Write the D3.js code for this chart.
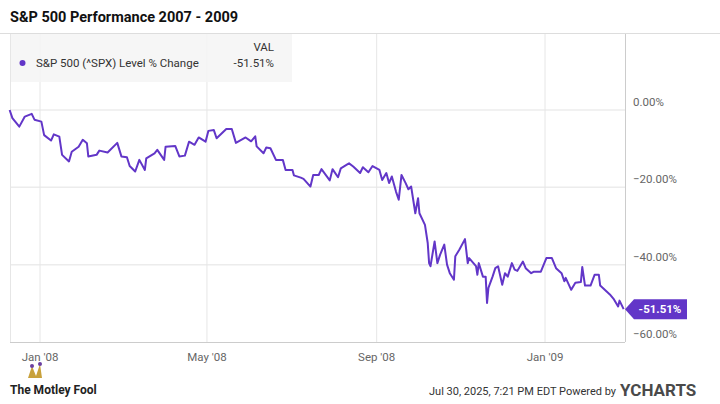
<!DOCTYPE html>
<html><head><meta charset="utf-8">
<script src="https://cdn.jsdelivr.net/npm/d3@7"></script>
<style>body{margin:0;background:#fff;font-family:Roboto,sans-serif}</style>
</head><body><svg id="c" width="720" height="404"></svg>
<script>
var dates = ["2007-12-10","2007-12-12","2007-12-17","2007-12-21","2007-12-26","2007-12-28","2008-01-02","2008-01-04","2008-01-09","2008-01-11","2008-01-15","2008-01-17","2008-01-22","2008-01-24","2008-01-29","2008-02-01","2008-02-04","2008-02-05","2008-02-11","2008-02-13","2008-02-19","2008-02-26","2008-02-29","2008-03-04","2008-03-06","2008-03-10","2008-03-13","2008-03-17","2008-03-18","2008-03-24","2008-03-26","2008-03-31","2008-04-01","2008-04-08","2008-04-11","2008-04-15","2008-04-18","2008-04-22","2008-04-25","2008-04-30","2008-05-02","2008-05-06","2008-05-08","2008-05-15","2008-05-19","2008-05-22","2008-05-29","2008-06-02","2008-06-05","2008-06-06","2008-06-11","2008-06-13","2008-06-16","2008-06-20","2008-06-25","2008-06-27","2008-07-02","2008-07-03","2008-07-08","2008-07-10","2008-07-15","2008-07-17","2008-07-21","2008-07-23","2008-07-29","2008-07-31","2008-08-04","2008-08-06","2008-08-11","2008-08-12","2008-08-15","2008-08-20","2008-08-22","2008-08-26","2008-08-29","2008-09-03","2008-09-05","2008-09-08","2008-09-10","2008-09-12","2008-09-15","2008-09-17","2008-09-19","2008-09-22","2008-09-24","2008-09-26","2008-09-29","2008-10-01","2008-10-02","2008-10-06","2008-10-08","2008-10-09","2008-10-10","2008-10-13","2008-10-15","2008-10-17","2008-10-20","2008-10-22","2008-10-24","2008-10-27","2008-10-28","2008-10-31","2008-11-04","2008-11-06","2008-11-07","2008-11-12","2008-11-13","2008-11-14","2008-11-17","2008-11-19","2008-11-20","2008-11-21","2008-11-24","2008-11-26","2008-11-28","2008-12-01","2008-12-03","2008-12-05","2008-12-08","2008-12-10","2008-12-12","2008-12-16","2008-12-18","2008-12-22","2008-12-24","2008-12-29","2009-01-02","2009-01-06","2009-01-09","2009-01-13","2009-01-15","2009-01-16","2009-01-20","2009-01-23","2009-01-27","2009-01-28","2009-01-30","2009-02-03","2009-02-06","2009-02-09","2009-02-10","2009-02-17","2009-02-20","2009-02-23","2009-02-24","2009-02-27"];
var values = [0,-2.1,-4.3,-1.7,-1.0,-2.5,-3.0,-6.5,-7.9,-6.3,-6.9,-11.6,-13.3,-10.8,-9.5,-7.7,-8.6,-12.0,-11.6,-10.5,-11.0,-8.5,-12.0,-12.2,-14.5,-15.9,-12.9,-15.5,-12.5,-11.2,-10.3,-12.9,-9.5,-9.3,-12.0,-11.8,-8.2,-9.0,-7.1,-8.2,-5.4,-5.2,-7.3,-4.9,-4.9,-8.5,-7.1,-8.1,-6.8,-9.4,-11.2,-9.7,-9.9,-12.9,-12.9,-15.5,-15.5,-16.9,-17.5,-17.8,-19.8,-16.8,-16.8,-15.3,-18.2,-15.3,-17.4,-15.1,-14.0,-13.8,-14.6,-16.3,-14.8,-16.1,-14.5,-15.5,-18.1,-16.3,-18.9,-17.2,-21.1,-23.2,-16.8,-18.9,-20.5,-19.8,-26.7,-22.8,-26.7,-29.7,-34.4,-39.6,-40.4,-34.0,-39.6,-37.4,-34.8,-40.0,-42.2,-43.9,-37.8,-36.1,-33.4,-39.6,-38.3,-40.4,-42.6,-39.6,-43.1,-43.1,-49.9,-46.0,-43.1,-40.9,-40.4,-45.2,-42.2,-43.1,-39.6,-41.3,-41.6,-39.2,-40.9,-42.2,-41.8,-41.8,-38.3,-38.3,-40.9,-42.2,-44.3,-43.4,-46.5,-44.7,-44.5,-40.6,-45.4,-45.4,-42.6,-42.6,-45.4,-47.7,-49.0,-50.8,-49.3,-51.51];
var yTicks = [0,-20,-40,-60];
var xTicks = ["2008-01-01","2008-05-01","2008-09-01","2009-01-01"];
var xTickLabels = ["Jan '08","May '08","Sep '08","Jan '09"];

var parse = d3.timeParse("%Y-%m-%d");
var data = dates.map(function (d, i) { return {date: parse(d), v: values[i]}; });
var svg = d3.select("#c");
var purple = "#6236c8";

var x = d3.scaleTime().domain([parse("2008-01-01"), parse("2009-01-01")]).range([40, 545]);
var y = d3.scaleLinear().domain([0, -60]).range([110, 342]);

svg.append("text").attr("x", 10).attr("y", 22).attr("font-size", 14.5).attr("font-weight", "bold")
	.attr("fill", "#111").text("S&P 500 Performance 2007 - 2009");
svg.append("line").attr("x1", 0).attr("x2", 720).attr("y1", 33.5).attr("y2", 33.5).attr("stroke", "#ddd");

// grid
svg.selectAll(".hg").data(yTicks.slice(0, 3)).enter().append("line")
	.attr("x1", 10).attr("x2", 625).attr("y1", y).attr("y2", y)
	.attr("stroke", "#ececec").attr("stroke-width", 1.5);
svg.selectAll(".vg").data(xTicks).enter().append("line")
	.attr("x1", function (d) { return x(parse(d)); }).attr("x2", function (d) { return x(parse(d)); })
	.attr("y1", 34).attr("y2", 342).attr("stroke", "#e6e6e6");

// legend box
svg.append("rect").attr("x", 10).attr("y", 34).attr("width", 282).attr("height", 48).attr("fill", "#f5f5f5").attr("opacity", 0.85);
svg.append("circle").attr("cx", 22.5).attr("cy", 63).attr("r", 3).attr("fill", purple);
svg.append("text").attr("x", 36).attr("y", 67).attr("font-size", 11.5).attr("fill", "#333").text("S&P 500 (^SPX) Level % Change");
svg.append("text").attr("x", 274).attr("y", 51).attr("text-anchor", "end").attr("font-size", 11.5).attr("fill", "#333").text("VAL");
svg.append("text").attr("x", 274).attr("y", 67).attr("text-anchor", "end").attr("font-size", 11.5).attr("fill", "#333").text("-51.51%");

// axes lines
svg.append("line").attr("x1", 625.5).attr("x2", 625.5).attr("y1", 34).attr("y2", 342).attr("stroke", "#ccc");
svg.append("line").attr("x1", 10).attr("x2", 625).attr("y1", 342.5).attr("y2", 342.5).attr("stroke", "#ccc");
svg.append("line").attr("x1", 10.5).attr("x2", 10.5).attr("y1", 34).attr("y2", 342).attr("stroke", "#e6e6e6");

svg.selectAll(".yl").data(yTicks).enter().append("text")
	.attr("x", 633).attr("y", function (d) { return y(d) - 4; })
	.attr("font-size", 11.5).attr("fill", "#666").text(function (d) { return d3.format(".2f")(d) + "%"; });
svg.selectAll(".xl").data(xTicks).enter().append("text")
	.attr("x", function (d) { return x(parse(d)); }).attr("y", 361)
	.attr("text-anchor", "middle").attr("font-size", 11.5).attr("fill", "#666")
	.text(function (d, i) { return xTickLabels[i]; });

// line
svg.append("path").datum(data).attr("fill", "none").attr("stroke", purple).attr("stroke-width", 2)
	.attr("stroke-linejoin", "round")
	.attr("d", d3.line().x(function (d) { return x(d.date); }).y(function (d) { return y(d.v); }));

// end label
var ey = y(values[values.length - 1]);
svg.append("path").attr("d", "M625," + ey + " L634," + (ey - 10) + " H687 V" + (ey + 10) + " H634 Z").attr("fill", purple);
svg.append("text").attr("x", 660).attr("y", ey + 4).attr("text-anchor", "middle").attr("font-size", 11.5)
	.attr("font-weight", "bold").attr("fill", "#fff").text("-51.51%");

// footer
var logo = svg.append("g").attr("transform", "translate(10,380)");
logo.append("path").attr("d", "M18,-2 L22,-14 L26,-4 L30,-16 L32,-2 Z").attr("fill", "#c8a13c");
logo.append("circle").attr("cx", 22).attr("cy", -14).attr("r", 2).attr("fill", "#6b3fa0");
logo.append("circle").attr("cx", 30).attr("cy", -16).attr("r", 2).attr("fill", "#6b3fa0");
logo.append("text").attr("x", 0).attr("y", 14).attr("font-size", 12).attr("font-weight", "bold").attr("fill", "#222").text("The Motley Fool");
svg.append("text").attr("x", 616).attr("y", 395).attr("text-anchor", "end").attr("font-size", 11).attr("fill", "#333")
	.text("Jul 30, 2025, 7:21 PM EDT  Powered by");
svg.append("text").attr("x", 620).attr("y", 396).attr("font-size", 17).attr("font-weight", "bold").attr("fill", "#4a4a4a")
	.text("YCHARTS");
</script></body></html>
